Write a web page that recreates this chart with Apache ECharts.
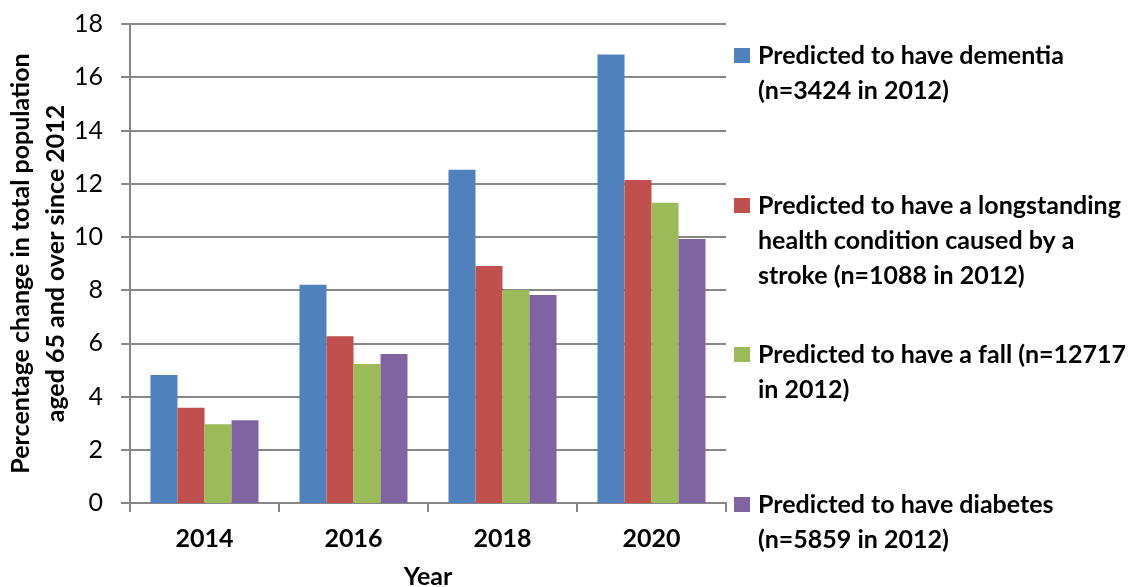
<!DOCTYPE html>
<html>
<head>
<meta charset="utf-8">
<script src="https://cdn.jsdelivr.net/npm/echarts@6/dist/echarts.min.js"></script>
<style>
html,body{margin:0;padding:0;background:#fff;}
#chart{width:1136px;height:587px;}
</style>
</head>
<body>
<div id="chart"></div>
<script>
const categories = ['2014', '2016', '2018', '2020'];
const seriesNames = [
  'Predicted to have dementia (n=3424 in 2012)',
  'Predicted to have a longstanding health condition caused by a stroke (n=1088 in 2012)',
  'Predicted to have a fall (n=12717 in 2012)',
  'Predicted to have diabetes (n=5859 in 2012)'
];
const legendLines = [
  ['Predicted to have dementia', '(n=3424 in 2012)'],
  ['Predicted to have a longstanding', 'health condition caused by a', 'stroke (n=1088 in 2012)'],
  ['Predicted to have a fall (n=12717', 'in 2012)'],
  ['Predicted to have diabetes', '(n=5859 in 2012)']
];
const dementia = [4.81, 8.2, 12.52, 16.85];
const stroke = [3.58, 6.27, 8.91, 12.14];
const fall = [2.96, 5.22, 8.0, 11.28];
const diabetes = [3.11, 5.6, 7.82, 9.92];
const yTicks = { min: 0, max: 18, interval: 2 };
const yAxisTitle = 'Percentage change in total population\naged 65 and over since 2012';
const xAxisTitle = 'Year';

const colors = ['#4F81BD', '#C0504D', '#9BBB59', '#8064A2'];
const allValues = [dementia, stroke, fall, diabetes];
const FONT = 'Lato';
const FS = 25;
const LH = 35;
const iconTops = [48, 198, 347, 497];

const legends = seriesNames.map((name, i) => {
  const n = legendLines[i].length;
  const blockTop = iconTops[i] + 7.5 - (2 * n - 1) * LH / 2;
  return {
    show: true,
    data: [name],
    left: 734,
    top: blockTop,
    padding: 0,
    orient: 'vertical',
    itemWidth: 16,
    itemHeight: 15,
    icon: 'rect',
    selectedMode: false,
    formatter: function () {
      const pad = new Array(n - 1).fill('').join('\n');
      return pad + '\n' + legendLines[i].join('\n');
    },
    textStyle: {
      fontFamily: FONT,
      fontSize: FS,
      fontWeight: 'bold',
      color: '#000',
      lineHeight: LH,
      padding: [0, 0, 0, 3]
    }
  };
});

const chart = echarts.init(document.getElementById('chart'), null, { renderer: 'canvas' });
chart.setOption({
  animation: false,
  backgroundColor: '#fff',
  color: colors,
  legend: legends,
  grid: { left: 130, right: 410, top: 24, bottom: 84, containLabel: false, outerBoundsMode: 'none' },
  xAxis: {
    type: 'category',
    data: categories,
    name: xAxisTitle,
    nameLocation: 'middle',
    nameGap: 61,
    nameMoveOverlap: false,
    nameTextStyle: { fontFamily: FONT, fontSize: FS, fontWeight: 'bold', color: '#000' },
    axisLine: { lineStyle: { color: '#868686', width: 2 } },
    axisTick: { show: true, length: 9, lineStyle: { color: '#868686', width: 2 } },
    axisLabel: { margin: 23, fontFamily: FONT, fontSize: FS, fontWeight: 'bold', color: '#000' }
  },
  yAxis: {
    type: 'value',
    min: yTicks.min,
    max: yTicks.max,
    interval: yTicks.interval,
    name: yAxisTitle,
    nameLocation: 'middle',
    nameGap: 57,
    nameMoveOverlap: false,
    nameTextStyle: { fontFamily: FONT, fontSize: FS, fontWeight: 'bold', color: '#000', lineHeight: LH },
    axisLine: { show: true, lineStyle: { color: '#868686', width: 2 } },
    axisTick: { show: true, length: 9, lineStyle: { color: '#868686', width: 2 } },
    axisLabel: { margin: 27, fontFamily: FONT, fontSize: FS, color: '#000' },
    splitLine: { show: true, lineStyle: { color: '#868686', width: 2 } }
  },
  series: seriesNames.map((name, i) => ({
    name: name,
    type: 'bar',
    data: allValues[i],
    barGap: '0%',
    barCategoryGap: '27.5%',
    itemStyle: { color: colors[i] }
  }))
});
</script>
</body>
</html>
